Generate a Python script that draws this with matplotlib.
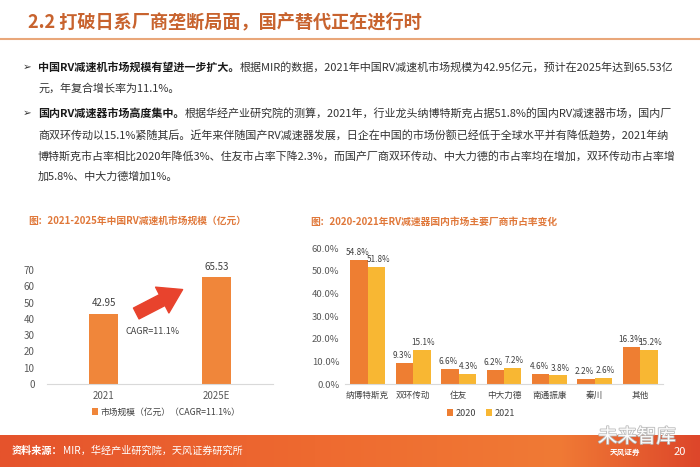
import numpy as np
import matplotlib
matplotlib.use('Agg')
import matplotlib.pyplot as plt
from matplotlib.lines import Line2D
from matplotlib.text import Annotation
from matplotlib.colors import LinearSegmentedColormap
import matplotlib.patheffects as pe

plt.rcParams['font.family'] = ['Noto Sans CJK SC', 'DejaVu Sans']

# ---- data ----
years = ['2021', '2025E']
market_size = [42.95, 65.53]
makers = ['纳博特斯克', '双环传动', '住友', '中大力德', '南通振康', '秦川', '其他']
share_2020 = [54.8, 9.3, 6.6, 6.2, 4.6, 2.2, 16.3]
share_2021 = [51.8, 15.1, 4.3, 7.2, 3.8, 2.6, 15.2]

W, H = 700, 467


def fx(x):
    return x / W


def fy(y):
    return 1 - y / H


def after(fig, prev, s, **kw):
    # put a piece of text right after another one on the same line
    a = Annotation(s, xy=(1, 0.5), xycoords=prev, va='center', ha='left',
                   annotation_clip=False, **kw)
    fig.add_artist(a)
    return a


fig = plt.figure(figsize=(7, 4.67), dpi=100)
fig.patch.set_facecolor('white')

# page title + rule
fig.text(fx(28), fy(22), '2.2 打破日系厂商垄断局面，国产替代正在进行时',
         fontsize=13.1, color='#C8632E', fontweight='bold', va='center')
fig.add_artist(Line2D([0, 1], [fy(39), fy(39)], color='#E9A77A', lw=1.5,
                      transform=fig.transFigure))

# body text: (y, bullet?, bold part, normal part)
body = [
    (67, True, '中国RV减速机市场规模有望进一步扩大。',
     '根据MIR的数据，2021年中国RV减速机市场规模为42.95亿元，预计在2025年达到65.53亿'),
    (88, False, '', '元，年复合增长率为11.1%。'),
    (113, True, '国内RV减速器市场高度集中。',
     '根据华经产业研究院的测算，2021年，行业龙头纳博特斯克占据51.8%的国内RV减速器市场，国内厂'),
    (135, False, '', '商双环传动以15.1%紧随其后。近年来伴随国产RV减速器发展，日企在中国的市场份额已经低于全球水平并有降低趋势，2021年纳'),
    (156, False, '', '博特斯克市占率相比2020年降低3%、住友市占率下降2.3%，而国产厂商双环传动、中大力德的市占率均在增加，双环传动市占率增'),
    (177, False, '', '加5.8%、中大力德增加1%。'),
]
fs_body = 7.95
for y, bullet, bold, rest in body:
    if bullet:
        fig.text(fx(23), fy(y), '➢', fontsize=7.5, color='#333333', va='center',
                 family='DejaVu Sans')
    if bold:
        t = fig.text(fx(38), fy(y), bold, fontsize=fs_body, fontweight='bold',
                     color='#1A1A1A', va='center')
        after(fig, t, rest, fontsize=fs_body, color='#333333')
    else:
        fig.text(fx(38), fy(y), rest, fontsize=fs_body, color='#333333', va='center')

# chart titles
fig.text(fx(28), fy(221), '图：2021-2025年中国RV减速机市场规模（亿元）',
         fontsize=7, color='#E0783A', fontweight='bold', va='center')
fig.text(fx(310), fy(222), '图：2020-2021年RV减速器国内市场主要厂商市占率变化',
         fontsize=7, color='#E0783A', fontweight='bold', va='center')

# ---- left chart ----
ax1 = fig.add_axes([fx(47), fy(384), (273 - 47) / W, (384 - 270) / H])
bars = ax1.bar(range(len(years)), market_size, width=0.26, color='#F0863A',
               label='市场规模（亿元）（CAGR=11.1%）')
ax1.bar_label(bars, labels=['%.2f' % v for v in market_size], padding=4,
              fontsize=7, color='#404040')
ax1.set_xlim(-0.5, 1.5)
ax1.set_ylim(0, 70)
ax1.set_yticks(range(0, 71, 10))
ax1.set_xticks(range(len(years)))
ax1.set_xticklabels(years)
for s in ['top', 'right', 'left']:
    ax1.spines[s].set_visible(False)
ax1.spines['bottom'].set_color('#D9D9D9')
ax1.tick_params(axis='y', length=0, labelsize=7, colors='#595959', pad=9)
ax1.tick_params(axis='x', length=0, labelsize=7, colors='#595959', pad=5)
ax1.annotate('', xy=(0.70, 58.0), xytext=(0.29, 43.3),
             arrowprops=dict(arrowstyle='simple,head_length=0.75,head_width=0.95,tail_width=0.4',
                             color='#E8432D', mutation_scale=22, shrinkA=0, shrinkB=0))
ax1.text(0.43, 32.5, 'CAGR=11.1%', ha='center', va='center', fontsize=6.5,
         color='#404040')
ax1.legend(loc='center left', bbox_to_anchor=(fx(84), fy(412)),
           bbox_transform=fig.transFigure, frameon=False, fontsize=6.3,
           handlelength=0.7, handleheight=0.7, handletextpad=0.3,
           labelcolor='#404040')

# ---- right chart ----
ax2 = fig.add_axes([fx(345), fy(384), 318 / W, (384 - 248) / H])
x = np.arange(len(makers))
w = 0.385
b1 = ax2.bar(x - w / 2, share_2020, w, color='#EE7E32', label='2020')
b2 = ax2.bar(x + w / 2, share_2021, w, color='#F8B733', label='2021')
for b, dx in ((b1, -1.2), (b2, 1.2)):
    for lab in ax2.bar_label(b, fmt='%.1f%%', padding=2, fontsize=5.9,
                             color='#404040'):
        lab.xyann = (dx, lab.xyann[1])
ax2.set_xlim(-0.5, len(makers) - 0.5)
ax2.set_ylim(0, 60)
ax2.set_yticks(range(0, 61, 10))
ax2.set_yticklabels(['%.1f%%' % v for v in range(0, 61, 10)])
ax2.set_xticks(x)
ax2.set_xticklabels(makers)
for s in ['top', 'right', 'left']:
    ax2.spines[s].set_visible(False)
ax2.spines['bottom'].set_color('#D9D9D9')
ax2.tick_params(axis='y', length=0, labelsize=6.8, colors='#595959', pad=4)
ax2.tick_params(axis='x', length=0, labelsize=6.2, colors='#404040', pad=5)
ax2.legend(loc='center', bbox_to_anchor=(fx(481), fy(413)),
           bbox_transform=fig.transFigure, frameon=False, fontsize=6.5, ncol=2,
           handlelength=0.7, handleheight=0.7, handletextpad=0.3,
           columnspacing=1.0, labelcolor='#404040')

# ---- footer band ----
axf = fig.add_axes([0, 0, 1, 32 / H])
cmap = LinearSegmentedColormap.from_list(
    'band', [(0, '#E5532C'), (0.45, '#EE6A30'), (0.8, '#F07A35'), (1, '#DD462A')])
axf.imshow(np.linspace(0, 1, 256)[None, :], aspect='auto', cmap=cmap,
           extent=[0, 1, 0, 1])
axf.set_axis_off()

t = fig.text(fx(12), fy(451), '资料来源：', fontsize=7.3, fontweight='bold',
             color='white', va='center')
after(fig, t, 'MIR，华经产业研究院，天风证券研究所', fontsize=7.3, color='white')

fig.text(fx(637), fy(437), '未来智库', fontsize=14, color='white', ha='center',
         va='center', alpha=0.95,
         path_effects=[pe.withStroke(linewidth=1.2, foreground='#B8B8B8')])
fig.text(fx(625), fy(452), '天风证券', fontsize=5.5, color='white',
         fontweight='bold', ha='center', va='center')
fig.text(fx(680), fy(452), '20', fontsize=8, color='white', ha='center',
         va='center')

fig.savefig('out.png', dpi=100)
